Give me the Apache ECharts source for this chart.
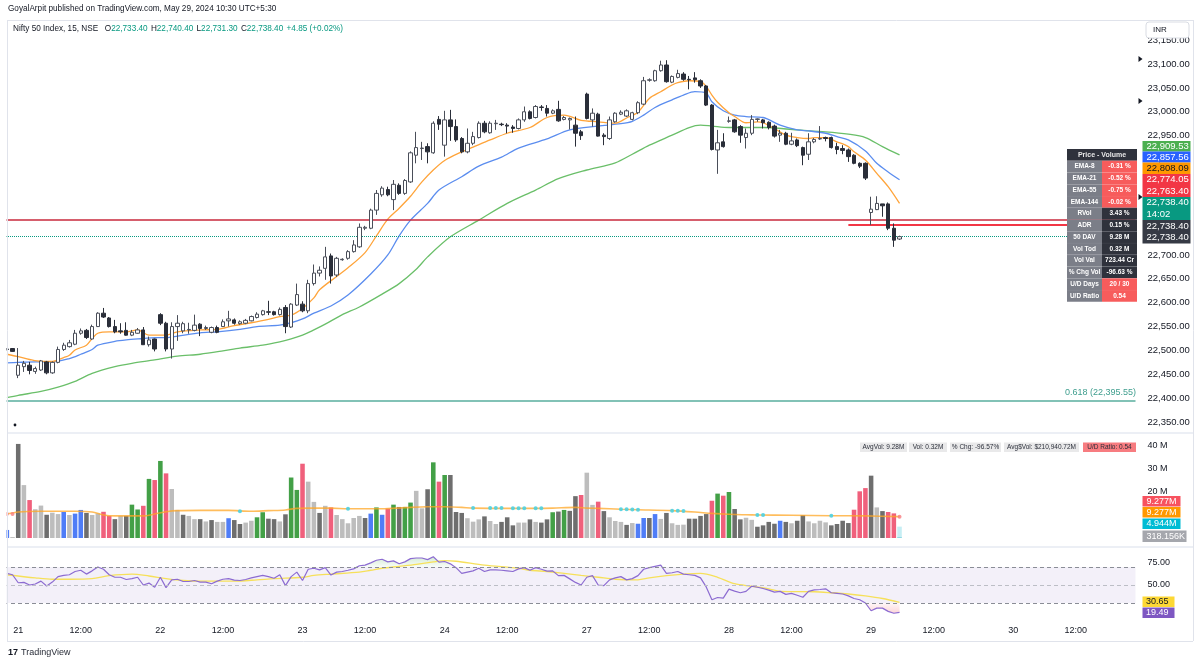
<!DOCTYPE html>
<html>
<head>
<meta charset="utf-8">
<title>Nifty 50 Index, 15, NSE</title>
<script src="https://cdn.jsdelivr.net/npm/echarts@6.0.0/dist/echarts.min.js"></script>
<style>
html,body{margin:0;padding:0;background:#ffffff;}
#chart{width:1200px;height:665px;}
</style>
</head>
<body>
<div id="chart"></div>
<script>
// ---------------- DATA ----------------
const preSession = ['18|15:00', '18|15:15'];
const sessionDays = ['21', '22', '23', '24', '27', '28', '29'];
const futureDay = '30';
const slotTimes = ['09:15','09:30','09:45','10:00','10:15','10:30','10:45','11:00','11:15','11:30','11:45','12:00','12:15','12:30','12:45','13:00','13:15','13:30','13:45','14:00','14:15','14:30','14:45','15:00','15:15'];
const futureSlots = 22;

const candleOpen = [22503,22504,
22448,22466,22469,22456,22459,22476,22453,22475,22502,22508,22513,22536,22542,22524,22550,22578,22568,22550,22541,22542,22532,22536,22543,22512,22524,
22575,22557,22503,22550,22541,22543,22542,22555,22546,22538,22548,22550,22562,22564,22556,22557,22562,22569,22575,22581,22581,22575,22590,22549,22595,
22597,22583,22640,22662,22672,22698,22658,22690,22693,22707,22717,22756,22756,22794,22826,22837,22816,22846,22829,22853,22909,22923,22927,22914,22984,
22930,22983,22969,22944,22916,22934,22946,22976,22956,22975,22974,22972,22968,22965,22983,23000,22988,23010,23007,22997,23005,22984,22983,22972,22958,
23037,22983,22995,22951,22944,22979,22995,22991,22984,22998,23016,23066,23065,23086,23098,23062,23072,23079,23068,23071,23065,23054,23014,22920,22937,
22980,22983,22969,22946,22955,22984,22983,22978,22970,22951,22955,22932,22941,22925,22911,22937,22943,22946,22946,22927,22923,22920,22909,22892,22892,
22789,22795,22807,22807,22756,22733.4];
const candleHigh = [22505,22505,
22505,22478,22476,22466,22480,22478,22477,22508,22516,22522,22543,22546,22545,22554,22580,22589,22570,22564,22557,22559,22543,22547,22549,22529,22525,
22578,22560,22559,22574,22560,22558,22575,22557,22552,22550,22552,22565,22583,22567,22563,22566,22573,22580,22585,22604,22583,22590,22595,22599,22640,
22603,22648,22680,22676,22717,22703,22696,22693,22710,22731,22766,22761,22797,22836,22844,22843,22857,22850,22859,22917,22958,22937,22934,22980,22991,
23002,23004,22984,22947,22965,22958,22980,22981,22980,22983,22977,22976,22972,22986,23011,23003,23014,23014,23014,23005,23023,22991,22988,22990,22962,
23040,23007,22998,22955,22990,22999,23003,23005,23000,23022,23073,23070,23088,23107,23108,23076,23088,23083,23075,23083,23068,23056,23016,22962,22955,
22990,22985,22972,22965,22993,22986,22985,22980,22973,22962,22958,22956,22944,22927,22955,22945,22970,22948,22948,22935,22930,22923,22911,22894,22894,
22822,22823,22807,22810,22766,22740.4];
const candleLow = [22500,22497,
22442,22455,22450,22451,22457,22450,22451,22473,22499,22506,22511,22533,22524,22522,22549,22568,22548,22536,22535,22531,22530,22535,22512,22508,22498,
22553,22498,22483,22520,22536,22535,22540,22530,22543,22536,22536,22549,22550,22554,22554,22555,22561,22567,22573,22574,22573,22573,22536,22547,22593,
22580,22578,22636,22655,22648,22640,22654,22688,22690,22705,22715,22752,22754,22784,22822,22823,22794,22826,22826,22851,22892,22899,22892,22912,22962,
22906,22939,22937,22913,22913,22930,22944,22955,22954,22962,22970,22955,22956,22963,22979,22984,22986,23002,22990,22995,22979,22982,22963,22927,22941,
22984,22969,22948,22930,22941,22977,22993,22989,22982,22995,23014,23063,23063,23084,23061,23060,23070,23065,23047,23061,23050,23012,22919,22870,22925,
22977,22956,22935,22923,22951,22979,22965,22963,22946,22937,22930,22930,22926,22888,22899,22934,22941,22938,22923,22911,22911,22895,22890,22882,22857,
22763,22794,22780,22752,22717,22731.3];
const candleClose = [22502,22498,
22469,22473,22458,22462,22478,22453,22475,22502,22511,22516,22536,22541,22527,22550,22578,22570,22550,22539,22539,22532,22538,22543,22512,22522,22503,
22557,22503,22550,22557,22556,22544,22553,22546,22548,22548,22538,22560,22566,22557,22560,22563,22571,22576,22583,22580,22575,22586,22550,22597,22617,
22583,22640,22662,22668,22696,22656,22693,22691,22707,22721,22758,22758,22794,22829,22840,22826,22848,22829,22856,22914,22925,22924,22916,22976,22974,
22983,22969,22941,22916,22934,22948,22976,22958,22976,22976,22973,22970,22965,22983,23000,22986,23011,23009,22997,23002,22981,22988,22986,22955,22950,
22986,22997,22949,22948,22983,22997,22999,23002,22998,23019,23065,23067,23086,23098,23063,23074,23080,23068,23067,23067,23054,23014,22921,22935,22927,
22981,22958,22951,22955,22984,22985,22977,22967,22949,22955,22932,22939,22929,22909,22937,22942,22944,22944,22925,22921,22919,22906,22892,22886,22861,
22796,22808,22803,22756,22731,22738.4];

// EMA lines: [bar index from 21 09:15, value]
const ema8Points = [[-2,22492],[0,22487],[2,22481],[4,22477],[6,22477],[8,22485],[9,22490],[10,22501],[12,22511],[13,22525],[14,22536],[16,22539],[19,22539],[21,22543],[23,22532],[26,22532],[28,22539],[32,22543],[35,22544],[38,22552],[41,22558],[44,22565],[46,22571],[48,22574],[50,22588],[52,22610],[53,22627],[56,22655],[58,22673],[61,22705],[63,22740],[65,22775],[67,22798],[69,22823],[71,22853],[73,22878],[75,22898],[78,22916],[80,22926],[83,22941],[86,22955],[90,22967],[93,22988],[96,22993],[99,22982],[102,22979],[105,22976],[107,22987],[109,22999],[111,23028],[113,23042],[115,23056],[116,23061],[118,23065],[120,23063],[121,23053],[122,23035],[123,23020],[125,22998],[126,22990],[128,22977],[130,22979],[131,22977],[133,22965],[135,22951],[137,22946],[139,22944],[140,22946],[142,22946],[144,22937],[146,22927],[147,22916],[149,22899],[151,22871],[153,22843],[155,22808.09]];
const ema21Points = [[-2,22474],[0,22475],[3,22476],[6,22476],[9,22483],[11,22492],[13,22502],[14,22511],[17,22519],[19,22522],[22,22525],[24,22527],[26,22527],[28,22530],[32,22537],[35,22539],[39,22544],[42,22550],[46,22553],[48,22558],[50,22566],[52,22578],[55,22593],[58,22616],[62,22660],[65,22700],[67,22740],[69,22773],[72,22808],[74,22836],[78,22864],[81,22886],[85,22905],[88,22924],[93,22943],[97,22962],[102,22970],[106,22975],[108,22980],[110,22993],[112,23009],[115,23025],[117,23035],[119,23042],[121,23039],[122,23021],[124,23002],[126,22993],[128,22990],[131,22988],[134,22972],[137,22962],[139,22960],[142,22955],[144,22948],[146,22941],[149,22918],[151,22892],[153,22874],[155,22857.56]];
const ema55Points = [[-2,22401],[0,22406],[4,22414],[7,22423],[10,22435],[13,22452],[17,22466],[20,22473],[24,22480],[28,22488],[32,22492],[36,22499],[39,22505],[43,22511],[46,22518],[48,22524],[50,22532],[52,22543],[54,22555],[57,22575],[60,22591],[64,22618],[67,22640],[70,22670],[72,22696],[76,22738],[81,22773],[86,22808],[91,22836],[95,22860],[100,22878],[105,22893],[108,22911],[111,22930],[115,22951],[118,22967],[120,22972],[122,22970],[125,22967],[131,22967],[137,22962],[142,22958],[146,22953],[149,22946],[152,22927],[155,22909.53]];

// Horizontal levels
const levelRed = 22774.05;
const levelOpen = 22763.40;
const levelLast = 22738.40;
const levelFib = 22395.55;

// Volume (millions) and bar colour codes
const volumeM = [3.5,0.4,
40.9,23.0,16.5,12.5,14.1,10.1,11.0,10.4,11.3,10.0,10.6,12.2,10.9,10.0,10.7,11.4,9.6,8.2,9.6,9.6,14.5,12.4,14.0,25.7,25.2,
33.5,28.1,21.3,12.2,10.1,9.6,8.2,8.2,7.2,7.8,7.0,7.0,8.6,7.8,6.1,6.7,7.5,9.0,11.2,8.4,8.2,7.2,10.3,26.3,20.9,
32.3,24.5,15.7,10.9,14.0,13.3,10.0,8.2,6.4,8.7,9.6,8.7,10.6,13.3,10.1,12.8,14.5,13.5,13.5,15.4,20.5,12.9,21.2,32.9,24.5,
27.4,27.4,11.3,10.9,8.6,7.1,8.1,9.4,7.4,6.1,7.0,9.0,5.5,6.7,6.7,8.1,7.0,6.7,8.1,11.2,11.5,12.2,11.8,18.2,18.7,
28.4,14.4,15.8,11.7,9.0,7.4,7.0,5.7,6.5,6.2,8.7,8.7,10.4,8.3,10.9,6.4,5.7,5.8,8.4,8.4,9.6,10.4,16.2,19.3,18.4,
20.0,12.6,8.1,8.8,7.9,4.9,5.5,7.0,6.2,7.5,7.0,6.4,7.5,9.9,7.2,6.4,7.5,6.8,5.5,6.1,7.5,6.5,12.3,20.3,21.7,
27.1,13.3,11.7,11.3,10.7,4.944];
const volumeColorCodes = ['B','L',
'D','L','P','L','L','D','L','L','B','L','B','B','D','L','L','P','P','D','L','D','G','G','P','G','P',
'G','P','L','L','D','L','L','D','L','D','L','L','B','D','D','L','L','G','G','D','D','L','D','G','G',
'P','L','L','D','L','P','L','L','L','L','L','D','B','G','B','P','G','D','G','G','L','L','D','G','P',
'G','D','D','D','L','L','L','D','L','L','D','D','D','L','L','D','L','D','D','G','D','G','D','D','P',
'L','L','P','D','L','L','L','D','L','B','B','D','B','L','D','L','L','L','D','D','D','D','P','G','P',
'G','D','D','L','L','D','D','D','D','B','D','L','D','D','L','L','L','L','D','D','D','D','P','P','P',
'D','L','D','P','P','C'];
const lastActualVolumeM = 0.318156;
const volumeMaPoints = [[-2,10.4],[0,11.3],[4,11.6],[10,11.6],[13,11.3],[15,10.0],[17,9.6],[22,9.6],[24,10.4],[26,11.4],[28,11.9],[32,12.0],[37,12.0],[41,11.6],[44,11.9],[47,12.2],[49,12.9],[51,13.0],[55,13.0],[58,12.7],[64,12.7],[68,13.2],[72,13.6],[75,13.6],[78,13.3],[80,13.0],[87,12.9],[91,12.9],[94,13.0],[98,13.3],[100,13.0],[102,12.9],[106,12.5],[109,12.3],[115,11.9],[119,11.3],[122,10.7],[125,10.3],[128,10.1],[130,10.0],[136,9.9],[143,9.7],[149,9.6],[155,9.277]];
const lowVolumeDots = [[39,11.6],[58,12.7],[80,13.0],[83,13.0],[84,13.0],[85,13.0],[87,12.9],[88,12.9],[89,12.9],[91,12.9],[92,12.9],[106,12.5],[107,12.5],[108,12.4],[109,12.3],[115,11.9],[116,11.8],[117,11.7],[130,10.0],[131,10.0],[143,9.7]];
const highVolumeDots = [[-2,10.4],[-1,10.4],[155,9.277]];

// RSI and its moving average
const rsiValues = [62.9,61.4,
52.5,52.9,50,51.1,54.3,48.9,53.2,59.3,60.7,61.4,65,66.4,62.1,65.7,70,67.5,61.4,58.6,58.6,56.1,57.1,58.6,50,52.1,47.5,
58.6,47.1,55.7,56.4,53.9,53.9,55,53.2,53.2,51.4,54.3,56.4,57.1,55.4,55,56.1,57.9,59.3,60.7,59.3,57.5,61.4,49.3,59.3,64.3,
55,67.5,68.6,66.8,69.3,61.1,64.3,65,66.4,67.9,71.4,72.1,74.6,77.5,78.6,75.7,76.8,73.6,75.7,79.3,80,80,78.2,81.4,75.4,
76.1,73.5,69.3,62.9,64.3,65.7,68.6,65,66.8,66.8,66.4,65.7,65,67.9,69.3,66.4,69.3,67.5,65.4,65.7,60.4,60.7,56.8,52.9,50,
58.6,60.4,50,49.3,55.7,57.9,59.3,55.7,57.1,60.4,67.5,69.3,70.7,72.1,62.9,63.6,65,62.1,61.4,60.7,57.9,47.9,33.6,36.1,35.4,
45.4,43.2,41.4,42.9,48.6,47.5,46.1,44.3,42.1,42.9,39.6,40.7,38.6,36.4,42.9,44.6,45,45.7,41.4,40.7,40,37.9,35,33.6,30,
21.4,24.3,24.3,20.7,18.6,19.49];
const rsiMaPoints = [[-2,61.4],[3,57.9],[6,56.4],[9,56.4],[13,57.1],[16,60.4],[20,62.1],[23,60],[26,57.1],[29,55],[32,54.3],[38,54.3],[42,55.7],[45,57.1],[50,58.6],[52,60.7],[55,62.1],[60,64.3],[62,66.4],[64,68.6],[67,70.7],[70,72.9],[73,75.7],[75,77.1],[77,76.4],[82,72.1],[88,68.6],[90,66.4],[93,65],[96,62.9],[99,60.7],[102,58.6],[105,56.4],[109,55.7],[111,57.9],[114,60.4],[117,62.1],[120,62.9],[123,58.6],[126,51.4],[129,48.6],[132,45.7],[134,42.9],[140,42.5],[143,41.4],[146,40],[149,37.9],[152,35],[155,30.65]];

// Side panel texts
const tableLabels = ['EMA-8','EMA-21','EMA-55','EMA-144','RVol','ADR','50 DAV','Vol Tod','Vol Val','% Chg Vol','U/D Days','U/D Ratio'];
const tableValues = ['-0.31 %','-0.52 %','-0.75 %','-0.02 %','3.43 %','0.15 %','9.28 M','0.32 M','723.44 Cr','-96.63 %','20 / 30','0.54'];
const tableValueKinds = ['r','r','r','r','d','d','d','d','d','d','r','r'];
const volStats = ['AvgVol: 9.28M','Vol: 0.32M','% Chg: -96.57%','Avg$Vol: $210,940.72M','U/D Ratio: 0.54'];

// ---------------- BUILD ----------------
const categories = preSession.slice();
sessionDays.forEach(d => slotTimes.forEach(t => categories.push(d + '|' + t)));
slotTimes.slice(0, futureSlots).forEach(t => categories.push(futureDay + '|' + t));
const OFF = preSession.length;
const pair = pts => pts.map(p => [p[0] + OFF, p[1]]);

const candleData = candleOpen.map((o, i) => [o, candleClose[i], candleLow[i], candleHigh[i]]);
const volColors = {D:'#6e6e6e', L:'#bdbdbd', G:'#43a047', P:'#f0607c', B:'#4f7df7', C:'#c6eef4'};
const volData = volumeM.map((v, i) => ({value: v, itemStyle: {color: volColors[volumeColorCodes[i]]}}));
const volActual = volumeM.map((v, i) => i === volumeM.length - 1 ? lastActualVolumeM : null);

const obBase = rsiValues.map(() => 70);
const obDelta = rsiValues.map(v => v > 70 ? v - 70 : 0);
const osBase = rsiValues.map(v => Math.min(v, 30));
const osDelta = rsiValues.map(v => v < 30 ? 30 - v : 0);

const FONT = '"Liberation Sans", Arial, sans-serif';
const GL = 4, GW = 1131.5;
const fmtPrice = v => v.toLocaleString('en-US', {minimumFractionDigits: 2, maximumFractionDigits: 2});

function txt(x, y, text, o) {
  o = o || {};
  return {type:'text', x:x, y:y, z:o.z || 120, silent:true,
    style:{text:text, fill:o.color || '#131722', font:(o.weight || 'normal') + ' ' + (o.size || 9) + 'px ' + FONT,
      align:o.align || 'left', verticalAlign:'middle'}};
}
function rect(x, y, w, h, fill, o) {
  o = o || {};
  return {type:'rect', z:o.z || 110, silent:true, shape:{x:x, y:y, width:w, height:h, r:o.r || 0},
    style:{fill:fill, stroke:o.stroke || null, lineWidth:o.lw || 0}};
}
function seg(x1, y1, x2, y2, color, w) {
  return {type:'line', z:115, silent:true, shape:{x1:x1, y1:y1, x2:x2, y2:y2}, style:{stroke:color, lineWidth:w || 1}};
}

const G = [];
// frame and pane separators
G.push(rect(0, 0, 6.5, 665, '#ffffff', {z:100}));
G.push(seg(7, 20.5, 1193, 20.5, '#e0e3eb'));
G.push(seg(7.5, 20, 7.5, 641, '#e0e3eb'));
G.push(seg(1193.5, 20, 1193.5, 641, '#e0e3eb'));
G.push(seg(7, 641.5, 1193, 641.5, '#e0e3eb'));
G.push(rect(8, 432, 1185, 2, '#eceff5'));
G.push(rect(8, 546, 1185, 2, '#eceff5'));
// header
G.push(txt(8, 9, 'GoyalArpit published on TradingView.com, May 29, 2024 10:30 UTC+5:30', {size:8.2}));
G.push({type:'text', x:13, y:29, z:120, silent:true, style:{
  text:'{a|Nifty 50 Index, 15, NSE}  {a|O}{b|22,733.40} {a|H}{b|22,740.40} {a|L}{b|22,731.30} {a|C}{b|22,738.40} {b|+4.85 (+0.02%)}',
  verticalAlign:'middle', align:'left',
  rich:{a:{fill:'#131722', font:'8.2px ' + FONT}, b:{fill:'#089981', font:'8.2px ' + FONT}}}});
// INR box
G.push(rect(1146, 22, 43, 16, '#ffffff', {stroke:'#d9dce3', lw:1, r:3, z:112}));
G.push(txt(1153, 30, 'INR', {size:8}));
// table
const tX0 = 1067, tX1 = 1102, tX2 = 1137, tY0 = 149, rowH = 11.75;
G.push(rect(tX0, tY0, tX2 - tX0, rowH, '#2f323c'));
G.push(txt((tX0 + tX2) / 2, tY0 + rowH / 2, 'Price - Volume', {color:'#e8e8e8', size:7, weight:'bold', align:'center'}));
tableLabels.forEach((lab, i) => {
  const y = tY0 + rowH * (i + 1);
  G.push(rect(tX0, y, tX1 - tX0, rowH, '#7b7e88'));
  G.push(rect(tX1, y, tX2 - tX1, rowH, tableValueKinds[i] === 'r' ? '#f75c5c' : '#2f323c'));
  G.push(seg(tX0, y + 0.25, tX2, y + 0.25, 'rgba(255,255,255,0.12)', 0.5));
  G.push(txt((tX0 + tX1) / 2, y + rowH / 2, lab, {color:'#ffffff', size:6.5, weight:'bold', align:'center'}));
  G.push(txt((tX1 + tX2) / 2, y + rowH / 2, tableValues[i], {color:'#ffffff', size:6.5, weight:'bold', align:'center'}));
});
// price axis last-value labels
const pl = [
  {y0:141, y1:151.5, bg:'#4caf50', lines:['22,909.53'], c:'#ffffff'},
  {y0:151.5, y1:162.5, bg:'#2962ff', lines:['22,857.56'], c:'#ffffff'},
  {y0:162.5, y1:174, bg:'#ff9800', lines:['22,808.09'], c:'#131722'},
  {y0:174, y1:197, bg:'#f23645', lines:['22,774.05', '22,763.40'], c:'#ffffff'},
  {y0:197, y1:220, bg:'#089981', lines:['22,738.40', '14:02'], c:'#ffffff'},
  {y0:220, y1:243.5, bg:'#363a45', lines:['22,738.40', '22,738.40'], c:'#ffffff'}
];
pl.forEach(b => {
  G.push(rect(1142.5, b.y0, 48, b.y1 - b.y0, b.bg));
  const h = (b.y1 - b.y0) / b.lines.length;
  b.lines.forEach((s, j) => G.push(txt(1146.5, b.y0 + h * (j + 0.5), s, {color:b.c, size:9.5})));
});
[59, 101, 197].forEach(y => G.push({type:'polygon', z:125, silent:true, shape:{points:[[1138.5, y - 3], [1142.5, y], [1138.5, y + 3]]}, style:{fill:'#131722'}}));
// volume stats
const vsX = [[860, 907], [909, 947], [950, 1001], [1004, 1079], [1083, 1136]];
volStats.forEach((s, i) => {
  const last = i === volStats.length - 1;
  G.push(rect(vsX[i][0], 442.5, vsX[i][1] - vsX[i][0], 9.5, last ? '#f77c80' : '#e9e9ea'));
  G.push(txt((vsX[i][0] + vsX[i][1]) / 2, 447.3, s, {color:'#2a2e39', size:6.5, align:'center'}));
});
// volume axis value labels
[
  {y0:496, y1:506.5, bg:'#f7525f', t:'9.277M', w:38},
  {y0:507, y1:517.5, bg:'#ff9800', t:'9.277M', w:38},
  {y0:518.5, y1:529, bg:'#00bcd4', t:'4.944M', w:38},
  {y0:530.5, y1:542, bg:'#a5a7ad', t:'318.156K', w:44}
].forEach(b => {
  G.push(rect(1142.5, b.y0, b.w, b.y1 - b.y0, b.bg));
  G.push(txt(1146.5, (b.y0 + b.y1) / 2, b.t, {color:'#ffffff', size:9}));
});
// RSI value labels
G.push(rect(1142.5, 596.5, 32, 10.5, '#fdd835'));
G.push(txt(1146, 601.8, '30.65', {color:'#131722', size:9}));
G.push(rect(1142.5, 607.5, 32, 10.5, '#7e57c2'));
G.push(txt(1146, 612.8, '19.49', {color:'#ffffff', size:9}));
// fib label, dot, logo
G.push(txt(1136, 393, '0.618 (22,395.55)', {color:'#3f9e8e', size:9, align:'right'}));
G.push({type:'circle', z:120, silent:true, shape:{cx:15, cy:425, r:1.4}, style:{fill:'#131722'}});
G.push(txt(8, 653, '17', {size:9, weight:'bold'}));
G.push(txt(21, 653, 'TradingView', {size:9, color:'#2a2e39'}));

const baseX = {type:'category', data:categories, boundaryGap:true, axisLine:{show:false}, axisTick:{show:false}, axisLabel:{show:false}, splitLine:{show:false}};

const option = {
  backgroundColor:'#ffffff',
  animation:false,
  grid:[
    {left:GL, width:GW, top:16.3, height:429.6},
    {left:GL, width:GW, top:441.4, height:96.6},
    {left:GL, width:GW, top:540, height:90},
    {left:GL, width:GW, top:621, height:1}
  ],
  xAxis:[
    Object.assign({gridIndex:0}, baseX),
    Object.assign({gridIndex:1}, baseX),
    Object.assign({gridIndex:2}, baseX),
    Object.assign({}, baseX, {gridIndex:3, axisLabel:{show:true, interval:0, margin:4, color:'#131722', fontSize:9, fontFamily:FONT,
      formatter:v => { const p = v.split('|'); if (p[0] === '18') return ''; if (p[1] === '09:15') return p[0]; if (p[1] === '12:00') return '12:00'; return ''; }}})
  ],
  yAxis:[
    {gridIndex:0, type:'value', position:'right', min:22300, max:23200, interval:50, scale:true,
      axisLine:{show:false}, axisTick:{show:false}, splitLine:{show:false},
      axisLabel:{margin:12, color:'#131722', fontSize:9.5, fontFamily:FONT, showMinLabel:false, showMaxLabel:false,
        formatter:v => (v <= 22300 || v >= 23200) ? '' : fmtPrice(v)}},
    {gridIndex:1, type:'value', position:'right', min:0, max:42, interval:10,
      axisLine:{show:false}, axisTick:{show:false}, splitLine:{show:false},
      axisLabel:{margin:12, color:'#131722', fontSize:9, fontFamily:FONT, formatter:v => (v === 20 || v === 30 || v === 40) ? v + ' M' : ''}},
    {gridIndex:2, type:'value', position:'right', min:0, max:100, interval:25,
      axisLine:{show:false}, axisTick:{show:false}, splitLine:{show:false},
      axisLabel:{margin:12, color:'#131722', fontSize:9, fontFamily:FONT, formatter:v => (v === 75 || v === 50) ? v.toFixed(2) : ''}},
    {gridIndex:3, type:'value', show:false}
  ],
  series:[
    {type:'candlestick', name:'Nifty 50', xAxisIndex:0, yAxisIndex:0, data:candleData, barWidth:'68%', z:5,
      itemStyle:{color:'#ffffff', color0:'#2a2e39', borderColor:'#4a4e59', borderColor0:'#2a2e39', borderWidth:1},
      markLine:{silent:true, symbol:['none','none'], label:{show:false}, animation:false,
        data:[
          {yAxis:levelRed, lineStyle:{color:'#c8283c', width:1.5, type:'solid'}},
          {yAxis:levelLast, lineStyle:{color:'#089981', width:1, type:'dotted'}},
          {yAxis:levelFib, lineStyle:{color:'#58ae9e', width:1.5, type:'solid'}},
          [{coord:[146 + OFF, levelOpen], lineStyle:{color:'#f23645', width:2, type:'solid'}}, {coord:[categories.length - 1, levelOpen]}]
        ]}},
    {type:'line', name:'EMA 55', xAxisIndex:0, yAxisIndex:0, data:pair(ema55Points), symbol:'none', smooth:0.3, z:4,
      lineStyle:{color:'#6abf69', width:1.3}},
    {type:'line', name:'EMA 21', xAxisIndex:0, yAxisIndex:0, data:pair(ema21Points), symbol:'none', smooth:0.3, z:4,
      lineStyle:{color:'#5b8def', width:1.3}},
    {type:'line', name:'EMA 8', xAxisIndex:0, yAxisIndex:0, data:pair(ema8Points), symbol:'none', smooth:0.3, z:4,
      lineStyle:{color:'#ffa43a', width:1.3}},
    {type:'bar', name:'Volume', xAxisIndex:1, yAxisIndex:1, data:volData, barWidth:'80%', barGap:'-100%', z:2},
    {type:'bar', name:'Volume now', xAxisIndex:1, yAxisIndex:1, data:volActual, barWidth:'80%', barGap:'-100%', z:3,
      itemStyle:{color:'#7fcfdc'}},
    {type:'line', name:'Vol MA', xAxisIndex:1, yAxisIndex:1, data:pair(volumeMaPoints), symbol:'none', smooth:0.3, z:4,
      lineStyle:{color:'#ffa726', width:1.6, opacity:0.75}},
    {type:'scatter', name:'Low vol', xAxisIndex:1, yAxisIndex:1, data:pair(lowVolumeDots), symbolSize:4, z:5,
      itemStyle:{color:'#4dd0e1', opacity:0.9}},
    {type:'scatter', name:'High vol', xAxisIndex:1, yAxisIndex:1, data:pair(highVolumeDots), symbolSize:4, z:5,
      itemStyle:{color:'#f77c80'}},
    {type:'line', name:'ob base', xAxisIndex:2, yAxisIndex:2, data:obBase, stack:'ob', symbol:'none', lineStyle:{opacity:0}, z:2},
    {type:'line', name:'ob fill', xAxisIndex:2, yAxisIndex:2, data:obDelta, stack:'ob', symbol:'none', lineStyle:{opacity:0}, z:2,
      areaStyle:{color:new echarts.graphic.LinearGradient(0, 0, 0, 1, [{offset:0, color:'rgba(76,175,80,0.35)'}, {offset:1, color:'rgba(76,175,80,0.05)'}])}},
    {type:'line', name:'os base', xAxisIndex:2, yAxisIndex:2, data:osBase, stack:'os', symbol:'none', lineStyle:{opacity:0}, z:2},
    {type:'line', name:'os fill', xAxisIndex:2, yAxisIndex:2, data:osDelta, stack:'os', symbol:'none', lineStyle:{opacity:0}, z:2,
      areaStyle:{color:new echarts.graphic.LinearGradient(0, 0, 0, 1, [{offset:0, color:'rgba(242,54,69,0.05)'}, {offset:1, color:'rgba(242,54,69,0.3)'}])}},
    {type:'line', name:'RSI', xAxisIndex:2, yAxisIndex:2, data:rsiValues, symbol:'none', z:4,
      lineStyle:{color:'#8c6bd1', width:1.2},
      markArea:{silent:true, itemStyle:{color:'rgba(126,87,194,0.09)'}, data:[[{yAxis:30}, {yAxis:70}]]},
      markLine:{silent:true, symbol:['none','none'], label:{show:false},
        data:[
          {yAxis:70, lineStyle:{color:'#8a8d96', type:[4,3], width:1}},
          {yAxis:50, lineStyle:{color:'#bcbec6', type:[4,3], width:1}},
          {yAxis:30, lineStyle:{color:'#8a8d96', type:[4,3], width:1}}
        ]}},
    {type:'line', name:'RSI MA', xAxisIndex:2, yAxisIndex:2, data:pair(rsiMaPoints), symbol:'none', smooth:0.3, z:3,
      lineStyle:{color:'#f6e05a', width:1.3}}
  ],
  graphic:G
};

const chart = echarts.init(document.getElementById('chart'), null, {renderer:'canvas', width:1200, height:665});
chart.setOption(option);
</script>
</body>
</html>
